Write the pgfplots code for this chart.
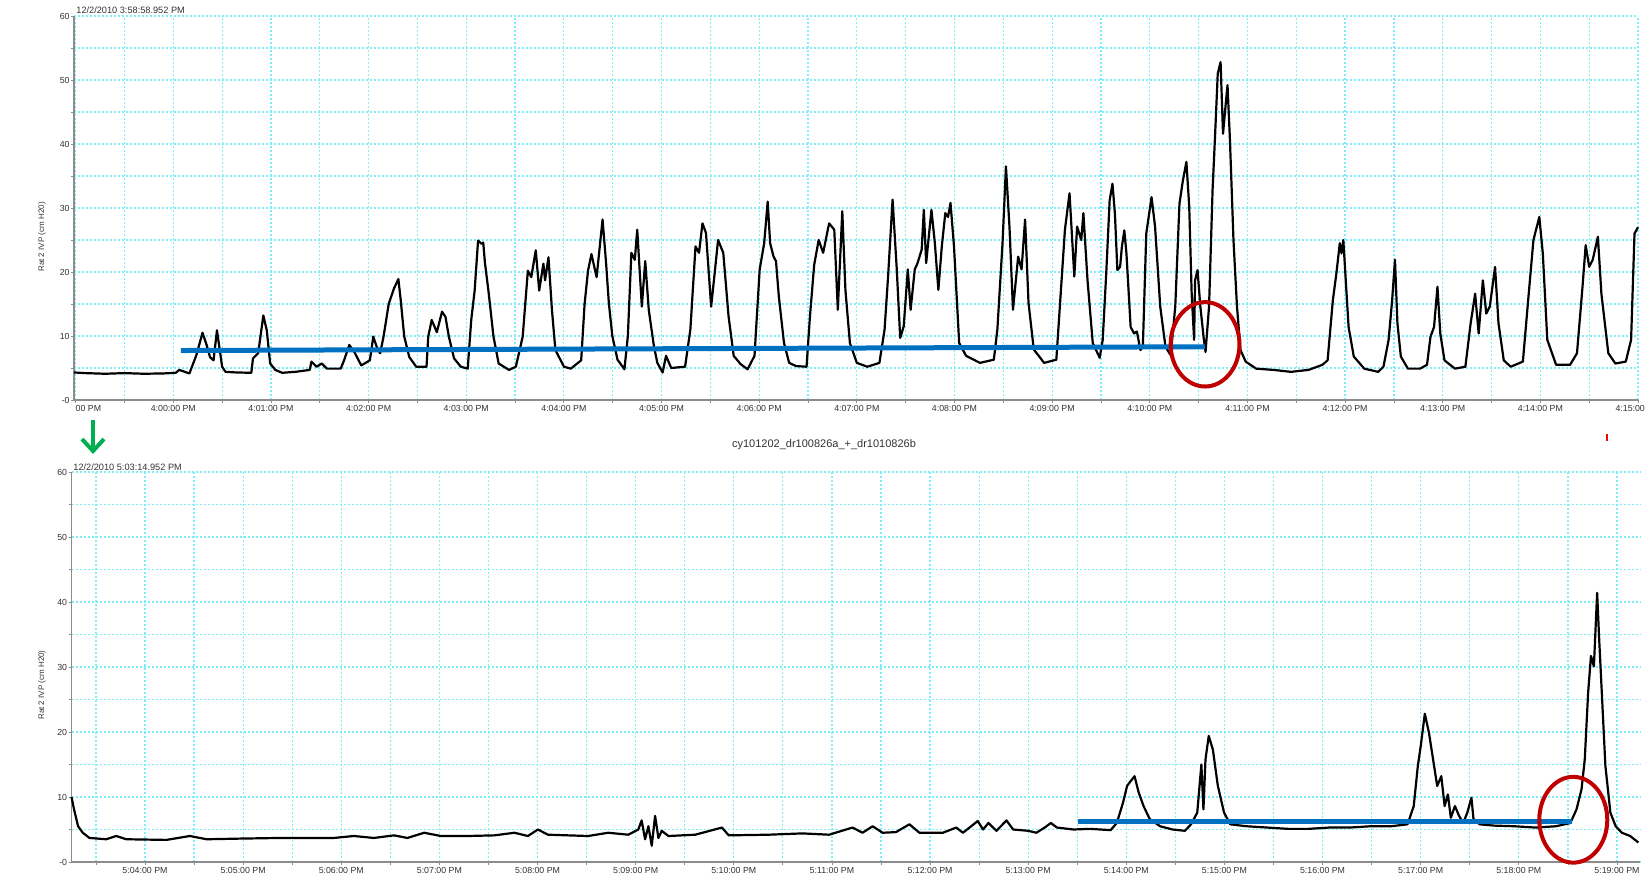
\documentclass[border=0pt]{standalone}
\usepackage{fontspec}
\setmainfont{Liberation Sans}
\usepackage{pgfplots}
\pgfplotsset{compat=1.18}
\usetikzlibrary{arrows.meta}
\definecolor{gridc}{RGB}{125,238,248}
\definecolor{annblue}{RGB}{0,112,192}
\definecolor{annred}{RGB}{192,0,0}
\definecolor{anngreen}{RGB}{0,176,80}
\definecolor{axgray}{RGB}{140,140,140}
\pgfplotsset{
  ivp/.style={
    scale only axis,
    axis x line=bottom, axis y line=left,
    axis line style={-, axgray, line width=0.8pt},
    ymin=0, ymax=60,
    ytick={0,10,...,60},
    yticklabels={-0,10,20,30,40,50,60},
    minor ytick={5,15,...,55},
    grid=both,
    major grid style={gridc, line width=0.6pt, dash pattern=on 1pt off 1pt},
    minor grid style={gridc, line width=0.6pt, dash pattern=on 1pt off 1pt},
    tick align=outside,
    major tick length=1.5pt, minor tick length=1.5pt,
    tick style={axgray, line width=0.4pt},
    tick label style={font=\fontsize{4.4}{5}\selectfont, text=black!80},
    xticklabel style={inner sep=1pt},
    yticklabel style={inner sep=0.5pt},
    clip=false,
  },
  trace/.style={black, line width=1.1pt, line join=round, no marks},
}
\begin{document}
\begin{tikzpicture}
\useasboundingbox (0,0) rectangle (823.5pt,439.5pt);
% ---------------- top panel ----------------
\begin{axis}[ivp, at={(37pt,239.5pt)}, anchor=south west, width=782pt, height=192pt,
  xmin=-1.017, xmax=15,
  xtick={-1,0,...,15},
  xticklabels={\makebox[0pt][l]{00 PM},4:00:00 PM,4:01:00 PM,4:02:00 PM,4:03:00 PM,4:04:00 PM,4:05:00 PM,4:06:00 PM,4:07:00 PM,4:08:00 PM,4:09:00 PM,4:10:00 PM,4:11:00 PM,4:12:00 PM,4:13:00 PM,4:14:00 PM,4:15:00 PM},
  minor xtick={-0.5,0.5,...,14.5}]
\addplot[trace] coordinates {
(-1.017,4.3) (-0.9,4.2) (-0.7,4.1) (-0.5,4.2) (-0.3,4.1) (-0.1,4.15) (0.025,4.25) (0.06,4.7) (0.165,4.15)
(0.236,7.0) (0.299,10.5) (0.341,8.6) (0.376,6.7) (0.412,6.2) (0.447,10.9) (0.5,5.2) (0.535,4.4) (0.65,4.3)
(0.799,4.25) (0.816,6.5) (0.869,7.3) (0.922,13.2) (0.957,10.9) (0.992,5.7) (1.045,4.7) (1.115,4.25) (1.25,4.4)
(1.397,4.7) (1.415,6.0) (1.467,5.2) (1.52,5.7) (1.573,4.9) (1.714,4.9) (1.749,6.2) (1.802,8.6) (1.854,7.5)
(1.925,5.4) (2.013,6.2) (2.048,9.9) (2.083,8.3) (2.118,7.3) (2.153,9.9) (2.206,15.0) (2.259,17.4) (2.305,18.9)
(2.329,15.6) (2.365,9.9) (2.417,6.7) (2.488,5.2) (2.593,5.2) (2.611,9.9) (2.646,12.5) (2.699,10.6) (2.752,13.8)
(2.787,13.0) (2.822,9.9) (2.875,6.5) (2.945,5.2) (3.015,4.9) (3.051,12.5) (3.086,17.1) (3.121,24.9) (3.156,24.4)
(3.174,24.6) (3.191,21.5) (3.227,17.1) (3.279,9.9) (3.332,5.7) (3.438,4.7) (3.508,5.2) (3.578,9.9) (3.631,20.2)
(3.666,19.2) (3.712,23.4) (3.747,17.1) (3.79,21.3) (3.807,18.7) (3.842,22.3) (3.878,14.0) (3.913,7.8) (4.001,5.2)
(4.071,4.9) (4.177,6.2) (4.212,15.0) (4.247,20.2) (4.282,22.8) (4.335,19.2)
(4.396,28.2) (4.432,21.4) (4.46,15.2) (4.496,10.0) (4.549,6.3) (4.62,4.8) (4.655,10.0) (4.691,23.0) (4.726,21.9)
(4.751,26.6) (4.798,14.6) (4.833,21.7) (4.869,14.1) (4.922,8.4) (4.957,5.8) (5.011,4.3) (5.046,6.9) (5.099,5.0)
(5.241,5.2) (5.295,11.0) (5.348,24.0) (5.384,23.0) (5.419,27.6) (5.455,26.1) (5.508,14.6) (5.544,19.8) (5.579,25.0)
(5.632,23.0) (5.686,13.1) (5.739,6.9) (5.81,5.6) (5.881,4.8) (5.952,6.9) (6.005,20.4) (6.051,24.5) (6.087,31.0)
(6.112,24.5) (6.147,22.4) (6.172,21.7) (6.201,16.2) (6.254,8.9) (6.307,5.8) (6.378,5.3) (6.485,5.2) (6.52,13.1)
(6.563,21.1) (6.609,25.0) (6.655,23.0) (6.716,27.6) (6.769,26.6) (6.805,14.1) (6.851,29.5) (6.883,17.2) (6.929,8.9)
(7.0,5.8) (7.107,5.2) (7.231,5.8) (7.284,11.0) (7.32,19.3) (7.366,31.3) (7.409,20.4) (7.444,9.7) (7.48,11.5)
(7.522,20.4) (7.551,14.1) (7.593,20.4) (7.622,21.4) (7.664,23.5) (7.686,29.7) (7.71,21.4) (7.764,29.7) (7.799,24.5)
(7.835,17.2) (7.87,24.0) (7.906,29.2) (7.934,28.6) (7.959,30.8) (7.995,24.0) (8.048,8.9) (8.119,6.9) (8.261,5.8)
(8.403,6.3) (8.439,11.0) (8.492,24.5) (8.527,36.5) (8.563,27.1) (8.599,14.1) (8.652,22.4) (8.687,20.4) (8.723,28.2)
(8.758,15.2) (8.812,7.9) (8.918,5.8) (9.043,6.3) (9.131,26.6) (9.178,32.3) (9.227,19.3) (9.256,27.1) (9.298,25.0)
(9.32,29.2) (9.362,18.8) (9.416,8.9) (9.487,6.6)
(9.518,9.4) (9.554,19.8) (9.589,31.2) (9.618,33.8) (9.643,29.1) (9.668,20.3) (9.696,20.8) (9.714,23.9) (9.739,26.5)
(9.761,22.9) (9.804,11.4) (9.839,10.4) (9.868,10.7) (9.904,7.8) (9.929,8.3) (9.964,26.0) (10.018,31.7) (10.054,27.1)
(10.107,14.6) (10.161,8.3) (10.214,7.0) (10.261,14.6) (10.304,30.7) (10.339,34.3) (10.375,37.2) (10.404,30.2)
(10.429,16.6) (10.454,9.4) (10.464,18.7) (10.489,20.3) (10.518,14.6) (10.554,9.4) (10.571,7.5) (10.607,14.6)
(10.643,32.8) (10.668,41.1) (10.696,51.0) (10.725,52.8) (10.75,41.6) (10.775,45.8) (10.796,49.2) (10.821,40.6)
(10.857,25.0) (10.893,14.6) (10.929,7.8) (10.982,6.0) (11.089,4.9) (11.268,4.7) (11.446,4.4) (11.625,4.7)
(11.768,5.5) (11.821,6.2) (11.875,15.6) (11.911,19.8) (11.946,24.5) (11.964,22.9) (11.982,25.0) (12.036,11.4)
(12.089,6.8) (12.196,4.9) (12.339,4.4) (12.393,5.2) (12.446,9.4) (12.482,15.6) (12.511,21.9) (12.536,12.0)
(12.571,6.8) (12.643,4.9) (12.768,4.9) (12.839,5.5) (12.875,9.9) (12.911,11.4) (12.946,17.7) (12.975,10.4)
(13.018,6.2) (13.125,4.9) (13.232,5.2) (13.286,12.0) (13.332,16.6) (13.368,10.4) (13.411,18.7) (13.446,13.5)
(13.482,14.6) (13.536,20.8) (13.571,12.0) (13.625,6.2) (13.696,5.2) (13.821,6.0) (13.875,15.6) (13.929,25.0)
(13.989,28.6) (14.025,22.9) (14.071,9.4) (14.161,5.5) (14.304,5.5) (14.375,7.3) (14.429,17.2) (14.464,24.2)
(14.5,20.8) (14.536,21.9) (14.589,25.5) (14.625,16.6) (14.696,7.3) (14.768,5.7) (14.875,6.0) (14.929,9.4)
(14.964,26.0) (15.0,27.0)
};
\addplot[annblue, line width=2.5pt, no marks] coordinates {(0.077,7.73) (10.564,8.32)};
\draw[annred, line width=2pt] (axis cs:10.566,8.7) ellipse [x radius=17.2pt, y radius=21.1pt];
\end{axis}
% ---------------- bottom panel ----------------
\begin{axis}[ivp, at={(35.75pt,8.5pt)}, anchor=south west, width=784.25pt, height=195pt,
  xmin=-0.749, xmax=15.235,
  xtick={0,1,...,15},
  xticklabels={5:04:00 PM,5:05:00 PM,5:06:00 PM,5:07:00 PM,5:08:00 PM,5:09:00 PM,5:10:00 PM,5:11:00 PM,5:12:00 PM,5:13:00 PM,5:14:00 PM,5:15:00 PM,5:16:00 PM,5:17:00 PM,5:18:00 PM,5:19:00 PM},
  minor xtick={-0.5,0.5,...,14.5}]
\addplot[trace] coordinates {
(-0.749,10.0) (-0.723,8.1) (-0.682,5.5) (-0.634,4.5) (-0.566,3.7) (-0.396,3.5) (-0.293,4.0) (-0.191,3.5)
(0.218,3.4) (0.457,4.0) (0.628,3.5) (0.969,3.6) (1.378,3.7) (1.924,3.7) (2.128,4.0) (2.333,3.7) (2.538,4.1)
(2.674,3.7) (2.845,4.5) (3.015,4.0) (3.288,4.0) (3.561,4.1) (3.765,4.5) (3.902,4.0) (4.004,5.0) (4.106,4.2)
(4.311,4.1) (4.516,4.0) (4.72,4.5) (4.925,4.2) (5.027,5.0) (5.061,6.4) (5.096,3.5) (5.13,5.5) (5.164,2.5)
(5.198,7.1) (5.232,3.7) (5.266,4.8) (5.334,4.0) (5.607,4.2) (5.88,5.3) (5.948,4.1) (6.357,4.2) (6.698,4.4)
(6.971,4.2) (7.21,5.3) (7.312,4.5) (7.415,5.5) (7.517,4.5) (7.653,4.6) (7.79,5.8) (7.892,4.5) (8.131,4.5)
(8.267,5.3) (8.335,4.5) (8.486,6.3) (8.54,5.0) (8.595,6.0) (8.677,4.8) (8.779,6.4) (8.847,5.0) (9.0,4.8)
(9.084,4.5) (9.168,5.3) (9.231,6.0) (9.294,5.3) (9.462,5.0) (9.63,5.1) (9.84,4.9) (9.903,6.0) (9.966,9.1)
(10.008,11.7) (10.042,12.4) (10.084,13.2) (10.126,10.7) (10.176,8.6) (10.239,6.6) (10.345,5.5) (10.471,5.0)
(10.597,4.8) (10.66,5.8) (10.723,7.6) (10.765,15.0) (10.786,8.1) (10.807,15.8) (10.84,19.4) (10.882,17.3)
(10.933,11.7) (10.996,7.6) (11.059,5.8) (11.227,5.5) (11.437,5.3) (11.647,5.1) (11.857,5.1) (12.067,5.3)
(12.277,5.3) (12.487,5.5) (12.697,5.5) (12.866,5.8) (12.929,8.6) (12.971,14.8) (13.0,17.8) (13.042,22.8)
(13.084,19.9) (13.126,15.8) (13.168,11.7) (13.21,13.2) (13.244,8.6) (13.277,10.4) (13.307,6.8) (13.349,8.6)
(13.391,7.1) (13.433,6.0) (13.475,7.6) (13.517,9.9) (13.538,6.6) (13.601,5.8) (13.748,5.6) (13.958,5.5)
(14.168,5.3) (14.378,5.5) (14.525,6.0) (14.588,8.1) (14.639,11.2) (14.672,15.8) (14.706,26.0) (14.735,31.7)
(14.765,30.1) (14.798,41.4) (14.819,34.2) (14.849,25.0) (14.882,14.8) (14.933,7.6) (14.987,5.5) (15.05,4.5)
(15.134,4.0) (15.218,3.0)
};
\addplot[annblue, line width=2.5pt, no marks] coordinates {(9.504,6.25) (14.546,6.25)};
\draw[annred, line width=2pt] (axis cs:14.555,6.5) ellipse [x radius=17pt, y radius=21.45pt];
\end{axis}
% ---------------- texts and marks ----------------
\node[rotate=90, font=\fontsize{4}{5}\selectfont, text=black!80] at (21pt,321pt) {Rat 2 IVP (cm H20)};
\node[rotate=90, font=\fontsize{4}{5}\selectfont, text=black!80] at (21pt,97pt) {Rat 2 IVP (cm H20)};
\node[anchor=west, inner sep=0pt, font=\fontsize{4.6}{5}\selectfont, text=black!80] at (38pt,434.25pt) {12/2/2010 3:58:58.952 PM};
\node[anchor=west, inner sep=0pt, font=\fontsize{4.6}{5}\selectfont, text=black!80] at (36.5pt,206pt) {12/2/2010 5:03:14.952 PM};
\node[font=\fontsize{5.5}{6}\selectfont, text=black!80] at (412pt,217pt) {cy101202\_dr100826a\_+\_dr1010826b};
\draw[anngreen, line width=2pt, -{Straight Barb[length=6pt,width=11pt]}] (46.5pt,229.5pt) -- (46.5pt,212.5pt);
\draw[red, line width=0.6pt] (803.5pt,222.5pt) -- (803.5pt,219pt);
\end{tikzpicture}
\end{document}
